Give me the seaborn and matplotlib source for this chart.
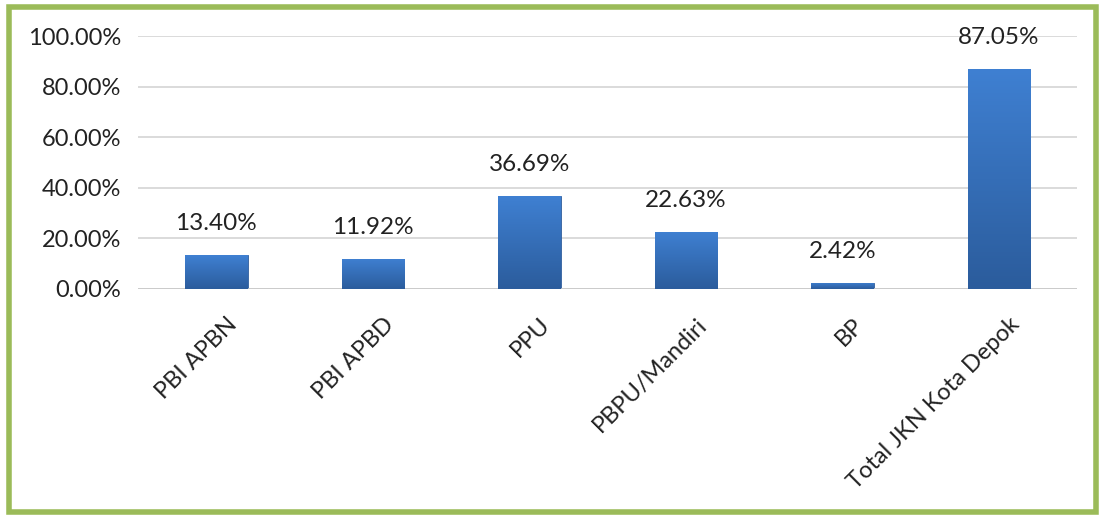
# Bar chart of JKN membership share, Kota Depok
import numpy as np
import pandas as pd
import seaborn as sns
import matplotlib.pyplot as plt
import matplotlib.transforms as mtransforms
from matplotlib.colors import LinearSegmentedColormap
from matplotlib.patches import Rectangle

# data
kategori = ['PBI APBN', 'PBI APBD', 'PPU', 'PBPU/Mandiri', 'BP', 'Total JKN Kota Depok']
persen = [13.40, 11.92, 36.69, 22.63, 2.42, 87.05]

df = pd.DataFrame({'kategori': kategori, 'persen': persen})

sns.set_theme(style='white')
plt.rcParams['font.family'] = ['Lato', 'DejaVu Sans']

fig = plt.figure(figsize=(11.05, 5.15), dpi=100)
ax = fig.add_axes([0.125, 0.439, 0.85, 0.491])

sns.barplot(data=df, x='kategori', y='persen', color='#3a74c4', width=0.4, ax=ax)

# gradient fill on each bar (light on top, darker at bottom)
cmap = LinearSegmentedColormap.from_list('bar', ['#2b5c9c', '#3f80d2'])
grad = np.linspace(0, 1, 256).reshape(-1, 1)
for p in ax.patches:
    x0, y0 = p.get_x(), p.get_y()
    w, h = p.get_width(), p.get_height()
    im = ax.imshow(grad, cmap=cmap, aspect='auto', origin='lower',
                   extent=[x0, x0 + w, y0, y0 + h], zorder=2)
    im.set_clip_path(p)
    p.set_edgecolor('#2f5f9e')
    p.set_linewidth(0.6)

# value labels
for i, v in enumerate(persen):
    ax.annotate(f'{v:.2f}%', (i, v), xytext=(0, 15), textcoords='offset points',
                ha='center', va='bottom', fontsize=17.5, color='#222222')

ax.set_xlim(-0.5, len(kategori) - 0.5)
ax.set_ylim(0, 100)
ax.set_yticks(np.arange(0, 101, 20))
ax.set_yticklabels([f'{t:.2f}%' for t in np.arange(0, 101, 20)], fontsize=17, color='#222222')
ax.yaxis.grid(True, color='#d4d4d4', linewidth=1.2)
ax.set_axisbelow(True)
ax.tick_params(axis='y', length=0, pad=12)
ax.tick_params(axis='x', length=0, pad=18)
shift = mtransforms.ScaledTranslation(10 / 100, 0, fig.dpi_scale_trans)
for lbl in ax.get_xticklabels():
    lbl.set_rotation(45)
    lbl.set_ha('right')
    lbl.set_rotation_mode('anchor')
    lbl.set_fontsize(17)
    lbl.set_color('#222222')
    lbl.set_transform(lbl.get_transform() + shift)
ax.set_xlabel('')
ax.set_ylabel('')
sns.despine(ax=ax, left=True, bottom=True, top=True, right=True)
ax.axhline(0, color='#c8c8c8', linewidth=1.2, zorder=1)

# green frame around the chart
fig.patches.append(Rectangle((0.008, 0.006), 0.984, 0.98, transform=fig.transFigure,
                             fill=False, edgecolor='#9bbb59', linewidth=4))

fig.savefig('out.png', dpi=100)
